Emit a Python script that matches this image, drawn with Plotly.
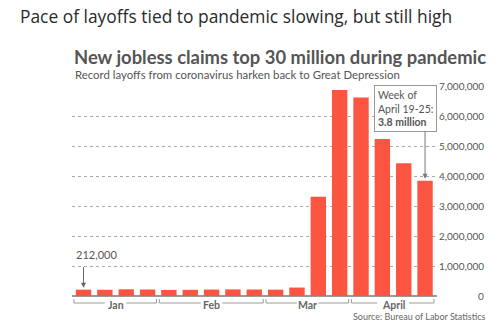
import plotly.graph_objects as go

# Weekly initial jobless claims, 2020 (week ending dates)
weeks = ["Jan 4", "Jan 11", "Jan 18", "Jan 25",
         "Feb 1", "Feb 8", "Feb 15", "Feb 22", "Feb 29",
         "Mar 7", "Mar 14", "Mar 21", "Mar 28",
         "Apr 4", "Apr 11", "Apr 18", "Apr 25"]
claims = [212000, 207000, 223000, 216000,
          203000, 205000, 215000, 220000, 217000,
          211000, 282000, 3307000, 6867000,
          6615000, 5237000, 4427000, 3839000]

# Month groups: (label, first week index, last week index)
months = [("Jan", 0, 3), ("Feb", 4, 8), ("Mar", 9, 12), ("April", 13, 16)]

tick_values = [0, 1000000, 2000000, 3000000, 4000000, 5000000, 6000000, 7000000]

W, H = 500, 336
ML, MR, MT, MB = 72, 63, 86, 40
PW, PH = W - ML - MR, H - MT - MB
X0, X1 = -0.54, 16.56
UNIT = PW / (X1 - X0)  # pixels per bar slot


def px(x):
    return (x - ML) / PW


def py(y):
    return (H - MB - y) / PH


FONT = "Lato"
BAR = "#fb5440"
TXT = "#555555"

x_idx = list(range(len(claims)))

fig = go.Figure(go.Bar(
    x=x_idx, y=claims, marker=dict(color=BAR, line=dict(width=0)),
    width=0.72, hoverinfo="skip",
))

ann = []

# Chart heading and subheading
ann.append(dict(text="<b>New jobless claims top 30 million during pandemic</b>",
                xref="paper", yref="paper", x=px(72), y=py(57),
                xanchor="left", yanchor="middle", showarrow=False,
                font=dict(family=FONT, size=18.4, color=TXT)))
ann.append(dict(text="Record layoffs from coronavirus harken back to Great Depression",
                xref="paper", yref="paper", x=px(73), y=py(74),
                xanchor="left", yanchor="middle", showarrow=False,
                font=dict(family=FONT, size=11.4, color=TXT)))

# Right-aligned value labels for the gridlines
for v in tick_values:
    ann.append(dict(text=f"{v:,}", xref="paper", yref="y", x=px(486), y=v,
                    xanchor="right", yanchor="middle", showarrow=False,
                    font=dict(family=FONT, size=10, color=TXT)))

# First-week callout
first = claims[0]
ann.append(dict(text=f"{first:,}", xref="paper", yref="paper",
                x=px(74), y=py(254), xanchor="left", yanchor="middle",
                showarrow=False, font=dict(family=FONT, size=11, color=TXT)))
ann.append(dict(text="", x=0, y=first, xref="x", yref="y", showarrow=True,
                ax=0, ay=-24, arrowhead=2, arrowsize=1, arrowwidth=1,
                arrowcolor="#666", standoff=2))

# Latest-week callout
last = claims[-1]
ann.append(dict(text=f"Week of<br>April 19-25:<br><b>{last / 1e6:.1f} million</b>",
                xref="paper", yref="paper", x=px(405), y=py(108.5),
                xanchor="center", yanchor="middle", align="left",
                showarrow=False, bgcolor="white", bordercolor="#999",
                borderwidth=1, borderpad=3,
                font=dict(family=FONT, size=10.5, color=TXT)))
ann.append(dict(text="", x=x_idx[-1], y=last, xref="x", yref="y", showarrow=True,
                ax=0, ay=-51, arrowhead=2, arrowsize=1, arrowwidth=1,
                arrowcolor="#777", standoff=2))

# Source line
ann.append(dict(text="Source: Bureau of Labor Statistics", xref="paper", yref="paper",
                x=px(487), y=py(316.5), xanchor="right", yanchor="middle",
                showarrow=False, font=dict(family=FONT, size=9, color="#666")))

# Month brackets under the bars, split around each month name
shapes = []
yb, yt = py(303), py(299)
line = dict(color="#999", width=1)
for name, a, b in months:
    x0, x1 = a - 0.45, b + 0.42
    mid = (a + b) / 2
    half_gap = (5.2 * len(name) + 6) / 2 / UNIT
    for s0, s1 in ((x0, mid - half_gap), (mid + half_gap, x1)):
        shapes.append(dict(type="line", xref="x", yref="paper",
                           x0=s0, x1=s1, y0=yb, y1=yb, line=line))
    for xe in (x0, x1):
        shapes.append(dict(type="line", xref="x", yref="paper",
                           x0=xe, x1=xe, y0=yb, y1=yt, line=line))
    ann.append(dict(text=f"<b>{name}</b>", x=mid, xref="x", yref="paper",
                    y=py(304.5), xanchor="center", yanchor="middle", showarrow=False,
                    borderpad=0, font=dict(family=FONT, size=10.5, color="#666")))

fig.update_layout(
    width=W, height=H,
    margin=dict(l=ML, r=MR, t=MT, b=MB, pad=0),
    paper_bgcolor="white", plot_bgcolor="white",
    showlegend=False,
    title=dict(text="Pace of layoffs tied to pandemic slowing, but still high",
               xref="container", yref="container", x=20 / W, y=1 - 17 / H,
               xanchor="left", yanchor="middle",
               font=dict(family="Open Sans", size=17.4, color="#2a2a2a")),
    xaxis=dict(range=[X0, X1], showgrid=False, showticklabels=False,
               zeroline=False, showline=False, ticks="", fixedrange=True),
    yaxis=dict(range=[0, 7000000], tickvals=tick_values, showticklabels=False,
               showgrid=True, gridcolor="#aaaaaa", griddash="dot", gridwidth=1,
               zeroline=True, zerolinecolor="#999", zerolinewidth=2,
               ticks="", fixedrange=True),
    annotations=ann, shapes=shapes,
)

fig.write_html("out.html")
